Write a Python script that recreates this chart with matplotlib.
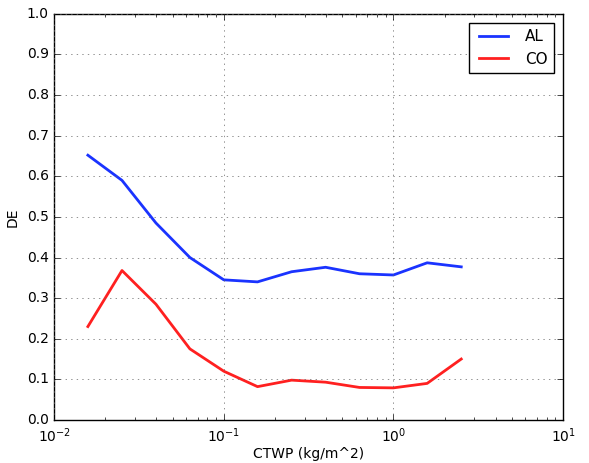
import matplotlib
matplotlib.use('Agg')
import matplotlib.pyplot as plt
import numpy as np

# CTWP bin centres (kg/m^2)
ctwp = [0.0158, 0.0251, 0.0398, 0.0631, 0.1, 0.158, 0.251, 0.398, 0.631, 1.0, 1.58, 2.51]
de_al = [0.652, 0.590, 0.485, 0.400, 0.345, 0.340, 0.365, 0.376, 0.360, 0.357, 0.387, 0.377]
de_co = [0.230, 0.368, 0.285, 0.175, 0.120, 0.082, 0.098, 0.093, 0.080, 0.079, 0.090, 0.150]

plt.style.use('classic')
fig = plt.figure(figsize=(5.89, 4.63), dpi=100, facecolor='white')
ax = fig.add_axes([0.092, 0.093, 0.864, 0.877])

ax.plot(ctwp, de_al, color='#1a33ff', lw=2, label='AL')
ax.plot(ctwp, de_co, color='#ff2020', lw=2, label='CO')

ax.set_xscale('log')
ax.set_xlim(1e-2, 1e1)
ax.set_ylim(0, 1)
ax.set_yticks(np.arange(0, 1.01, 0.1))
ax.grid(True, color='0.4')
ax.set_xlabel('CTWP (kg/m^2)', fontsize=10, labelpad=1)
ax.set_ylabel('DE', fontsize=10)
ax.tick_params(labelsize=10)
ax.tick_params(axis='x', pad=5)
ax.legend(loc='upper right', fontsize=11, handlelength=2.5, borderaxespad=0.6)

fig.savefig('out.png', dpi=100, facecolor='white')
